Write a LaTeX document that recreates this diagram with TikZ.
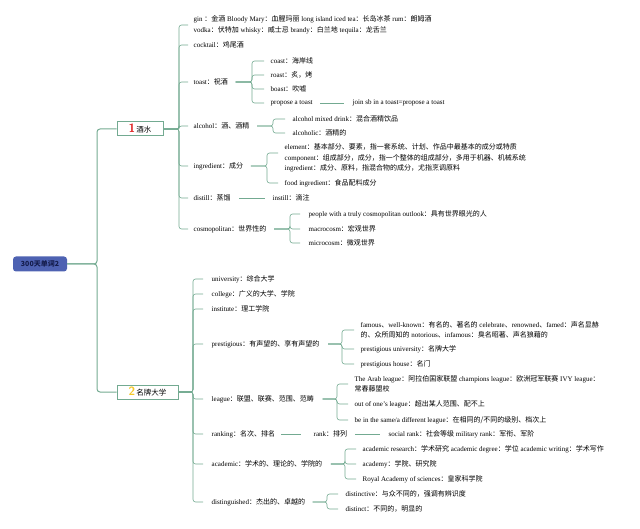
\documentclass[tikz,border=0pt]{standalone}
\usepackage{fontspec}
\setmainfont{Liberation Serif}
\newfontfamily\cjk{Noto Sans CJK SC}
\newcommand{\cn}[1]{{\cjk #1}}
\usetikzlibrary{positioning}

\begin{document}
\begin{tikzpicture}[
  x=1pt, y=-1pt,
  font=\fontsize{7}{10.5}\selectfont,
  leaf/.style={anchor=west, inner sep=0.5pt, align=left},
  link/.style={draw=cLink, line width=0.6pt, rounded corners=2.5pt},
  trunk/.style={draw=cLink, line width=1pt, rounded corners=3pt},
  topic/.style={
    draw=cLink, line width=1pt, fill=white, minimum height=14pt,
    inner sep=2pt, font=\fontsize{7.5}{9}\selectfont
  }
]

  % Colors based on the image
  \definecolor{cLink}{RGB}{115,170,145}   % green-grey lines
  \definecolor{cRoot}{RGB}{78,98,178}     % blue root
  \definecolor{cRootText}{RGB}{20,28,75}
  \definecolor{cOne}{RGB}{225,45,45}      % red number
  \definecolor{cTwo}{RGB}{245,200,40}     % yellow number

  \useasboundingbox (0,0) rectangle (640,529);

  % --- ROOT AND MAIN TOPICS ---
  \node[fill=cRoot, rounded corners=3pt, minimum width=54pt, minimum height=15pt,
        inner sep=1pt, text=cRootText, font=\fontsize{7}{8}\selectfont\bfseries]
    (root) at (40,264) {\cn{300天单词2}};

  \node[topic, minimum width=46pt] (drinks) at (140,129)
    {\textcolor{cOne}{\sffamily\bfseries\fontsize{12}{12}\selectfont 1}\,\cn{酒水}};
  \node[topic, minimum width=61pt] (unis) at (147.5,392)
    {\textcolor{cTwo}{\sffamily\bfseries\fontsize{12}{12}\selectfont 2}\,\cn{名牌大学}};

  \coordinate (vRoot) at (97,264);
  \draw[trunk] (root.east) -- (vRoot) |- (drinks.west);
  \draw[trunk] (root.east) -- (vRoot) |- (unis.west);

  % --- BRANCH 1: drinks ---
  \node[leaf] (gin) at (193,25) {gin \cn{：金酒} Bloody Mary\cn{：血腥玛丽} long island iced tea\cn{：长岛冰茶} rum\cn{：朗姆酒}\\
    vodka\cn{：伏特加} whisky\cn{：威士忌} brandy\cn{：白兰地} tequila\cn{：龙舌兰}};
  \node[leaf] (cocktail) at (193,45) {cocktail\cn{：鸡尾酒}};
  \node[leaf] (toast) at (193,82) {toast\cn{：祝酒}};
  \node[leaf] (alcohol) at (193,126) {alcohol\cn{：酒、酒精}};
  \node[leaf] (ingredient) at (193,166) {ingredient\cn{：成分}};
  \node[leaf] (distill) at (193,198) {distill\cn{：蒸馏}};
  \node[leaf] (cosmo) at (193,229) {cosmopolitan\cn{：世界性的}};

  \coordinate (vOne) at (179,129);
  \draw[link] (drinks.east) -- (vOne) |- ([xshift=-5pt]gin.west);
  \draw[link] (drinks.east) -- (vOne) |- ([xshift=-5pt]cocktail.west);
  \draw[link] (drinks.east) -- (vOne) |- ([xshift=-5pt]toast.west);
  \draw[link] (drinks.east) -- (vOne) |- ([xshift=-5pt]alcohol.west);
  \draw[link] (drinks.east) -- (vOne) |- ([xshift=-5pt]ingredient.west);
  \draw[link] (drinks.east) -- (vOne) |- ([xshift=-5pt]distill.west);
  \draw[link] (drinks.east) -- (vOne) |- ([xshift=-5pt]cosmo.west);

  % toast
  \node[leaf] (coast) at (270,61) {coast\cn{：海岸线}};
  \node[leaf] (roast) at (270,75) {roast\cn{：炙，烤}};
  \node[leaf] (boast) at (270,89) {boast\cn{：吹嘘}};
  \node[leaf] (propose) at (270,103) {propose a toast};
  \node[leaf] (join) at (352,103) {join sb in a toast=propose a toast};

  \coordinate (vToast) at (252,82);
  \draw[link] ([xshift=7pt]toast.east) -- (vToast) |- ([xshift=-6pt]coast.west);
  \draw[link] ([xshift=7pt]toast.east) -- (vToast) |- ([xshift=-6pt]roast.west);
  \draw[link] ([xshift=7pt]toast.east) -- (vToast) |- ([xshift=-6pt]boast.west);
  \draw[link] ([xshift=7pt]toast.east) -- (vToast) |- ([xshift=-6pt]propose.west);
  \draw[link] ([xshift=7pt]propose.east) -- ([xshift=-8pt]join.west);

  % alcohol
  \node[leaf] (mixed) at (292,119) {alcohol mixed drink\cn{：混合酒精饮品}};
  \node[leaf] (alcoholic) at (292,133) {alcoholic\cn{：酒精的}};

  \coordinate (vAlc) at (273,126);
  \draw[link] ([xshift=7pt]alcohol.east) -- (vAlc) |- ([xshift=-7pt]mixed.west);
  \draw[link] ([xshift=7pt]alcohol.east) -- (vAlc) |- ([xshift=-7pt]alcoholic.west);

  % ingredient
  \node[leaf] (element) at (284,158) {element\cn{：基本部分、要素，指一套系统、计划、作品中最基本的成分或特质}\\
    component\cn{：组成部分，成分，指一个整体的组成部分，多用于机器、机械系统}\\
    ingredient\cn{：成分、原料，指混合物的成分，尤指烹调原料}};
  \node[leaf] (food) at (284,183) {food ingredient\cn{：食品配料成分}};

  \coordinate (vIng) at (267,166);
  \draw[link] ([xshift=7pt]ingredient.east) -- (vIng) |- ([xshift=-6pt,yshift=5pt]element.west);
  \draw[link] ([xshift=7pt]ingredient.east) -- (vIng) |- ([xshift=-6pt]food.west);

  % distill
  \node[leaf] (instill) at (272,198) {instill\cn{：滴注}};
  \draw[link] ([xshift=8pt]distill.east) -- ([xshift=-7pt]instill.west);

  % cosmopolitan
  \node[leaf] (outlook) at (308,214) {people with a truly cosmopolitan outlook\cn{：具有世界眼光的人}};
  \node[leaf] (macro) at (308,229) {macrocosm\cn{：宏观世界}};
  \node[leaf] (micro) at (308,243) {microcosm\cn{：微观世界}};

  \coordinate (vCos) at (290,229);
  \draw[link] ([xshift=7pt]cosmo.east) -- (vCos) |- ([xshift=-8pt]outlook.west);
  \draw[link] ([xshift=7pt]cosmo.east) -- (vCos) |- ([xshift=-8pt]macro.west);
  \draw[link] ([xshift=7pt]cosmo.east) -- (vCos) |- ([xshift=-8pt]micro.west);

  % --- BRANCH 2: universities ---
  \node[leaf] (university) at (211,279) {university\cn{：综合大学}};
  \node[leaf] (college) at (211,294) {college\cn{：广义的大学、学院}};
  \node[leaf] (institute) at (211,309) {institute\cn{：理工学院}};
  \node[leaf] (prestigious) at (211,344) {prestigious\cn{：有声望的、享有声望的}};
  \node[leaf] (league) at (211,399) {league\cn{：联盟、联赛、范围、范畴}};
  \node[leaf] (ranking) at (211,434) {ranking\cn{：名次、排名}};
  \node[leaf] (academic) at (211,464) {academic\cn{：学术的、理论的、学院的}};
  \node[leaf] (distinguished) at (211,502) {distinguished\cn{：杰出的、卓越的}};

  \coordinate (vTwo) at (193,392);
  \draw[link] (unis.east) -- (vTwo) |- ([xshift=-8pt]university.west);
  \draw[link] (unis.east) -- (vTwo) |- ([xshift=-8pt]college.west);
  \draw[link] (unis.east) -- (vTwo) |- ([xshift=-8pt]institute.west);
  \draw[link] (unis.east) -- (vTwo) |- ([xshift=-8pt]prestigious.west);
  \draw[link] (unis.east) -- (vTwo) |- ([xshift=-8pt]league.west);
  \draw[link] (unis.east) -- (vTwo) |- ([xshift=-8pt]ranking.west);
  \draw[link] (unis.east) -- (vTwo) |- ([xshift=-8pt]academic.west);
  \draw[link] (unis.east) -- (vTwo) |- ([xshift=-8pt]distinguished.west);

  % prestigious
  \node[leaf] (famous) at (360,330) {famous\cn{、}well-known\cn{：有名的、著名的} celebrate\cn{、}renowned\cn{、}famed\cn{：声名显赫}\\
    \cn{的、众所周知的} notorious\cn{、}infamous\cn{：臭名昭著、声名狼藉的}};
  \node[leaf] (puniv) at (360,349) {prestigious university\cn{：名牌大学}};
  \node[leaf] (phouse) at (360,364) {prestigious house\cn{：名门}};

  \coordinate (vPres) at (342,344);
  \draw[link] ([xshift=8pt]prestigious.east) -- (vPres) |- ([xshift=-6pt]famous.west);
  \draw[link] ([xshift=8pt]prestigious.east) -- (vPres) |- ([xshift=-6pt]puniv.west);
  \draw[link] ([xshift=8pt]prestigious.east) -- (vPres) |- ([xshift=-6pt]phouse.west);

  % league
  \node[leaf] (arab) at (354,384) {The Arab league\cn{：阿拉伯国家联盟} champions league\cn{：欧洲冠军联赛} IVY league\cn{：}\\
    \cn{常春藤盟校}};
  \node[leaf] (outof) at (354,404) {out of one's league\cn{：超出某人范围、配不上}};
  \node[leaf] (same) at (354,420) {be in the same/a different league\cn{：在相同的/不同的级别、档次上}};

  \coordinate (vLea) at (337,399);
  \draw[link] ([xshift=8pt]league.east) -- (vLea) |- ([xshift=-6pt]arab.west);
  \draw[link] ([xshift=8pt]league.east) -- (vLea) |- ([xshift=-6pt]outof.west);
  \draw[link] ([xshift=8pt]league.east) -- (vLea) |- ([xshift=-6pt]same.west);

  % ranking
  \node[leaf] (rank) at (313,434) {rank\cn{：排列}};
  \node[leaf] (social) at (388,434) {social rank\cn{：社会等级} military rank\cn{：军衔、军阶}};
  \draw[link] ([xshift=5pt]ranking.east) -- ([xshift=-12pt]rank.west);
  \draw[link] ([xshift=7pt]rank.east) -- ([xshift=-8pt]social.west);

  % academic
  \node[leaf] (research) at (362,449) {academic research\cn{：学术研究} academic degree\cn{：学位} academic writing\cn{：学术写作}};
  \node[leaf] (academy) at (362,464) {academy\cn{：学院、研究院}};
  \node[leaf] (royal) at (362,479) {Royal Academy of sciences\cn{：皇家科学院}};

  \coordinate (vAca) at (345,464);
  \draw[link] ([xshift=8pt]academic.east) -- (vAca) |- ([xshift=-6pt]research.west);
  \draw[link] ([xshift=8pt]academic.east) -- (vAca) |- ([xshift=-6pt]academy.west);
  \draw[link] ([xshift=8pt]academic.east) -- (vAca) |- ([xshift=-6pt]royal.west);

  % distinguished
  \node[leaf] (distinctive) at (345,494) {distinctive\cn{：与众不同的，强调有辨识度}};
  \node[leaf] (distinct) at (345,509) {distinct\cn{：不同的，明显的}};

  \coordinate (vDis) at (327,502);
  \draw[link] ([xshift=7pt]distinguished.east) -- (vDis) |- ([xshift=-7pt]distinctive.west);
  \draw[link] ([xshift=7pt]distinguished.east) -- (vDis) |- ([xshift=-7pt]distinct.west);

\end{tikzpicture}
\end{document}
